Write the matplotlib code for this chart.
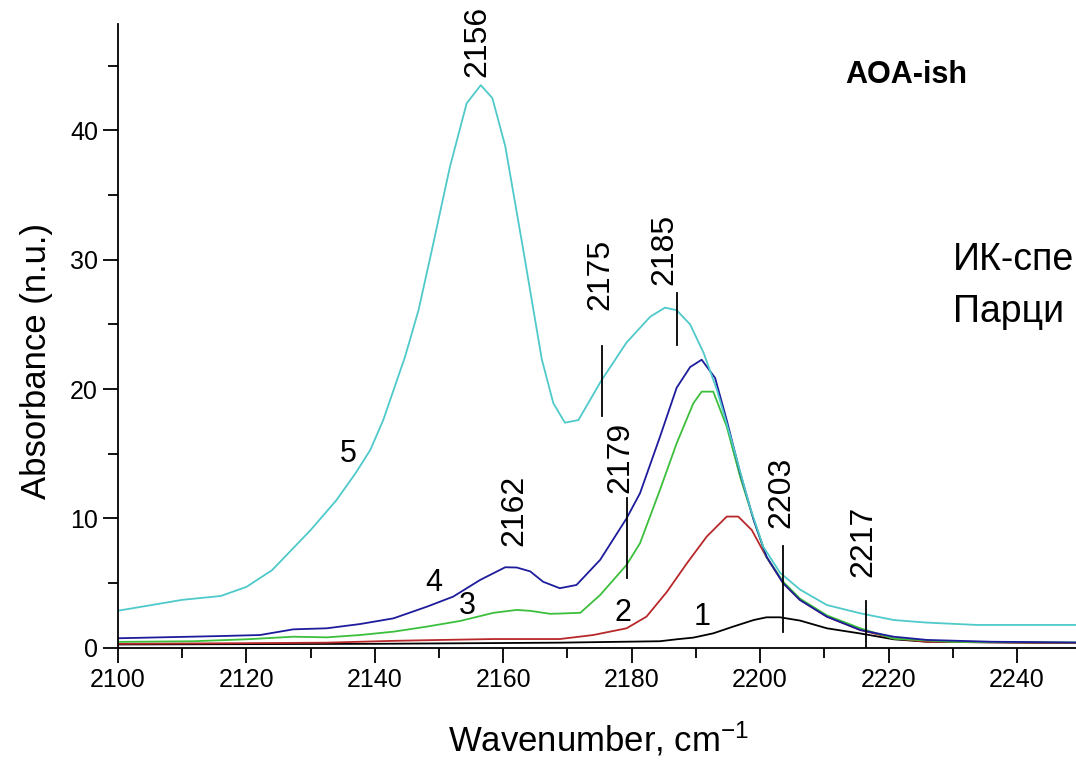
import matplotlib
matplotlib.use("Agg")
import matplotlib.pyplot as plt
from matplotlib.ticker import MultipleLocator

plt.rcParams["font.family"] = ["Liberation Sans", "DejaVu Sans"]
plt.rcParams["mathtext.fontset"] = "custom"
plt.rcParams["mathtext.rm"] = "Liberation Sans"
plt.rcParams["mathtext.it"] = "Liberation Sans:italic"

# spectrum 5 (cyan)
wn5 = [2100, 2110, 2116, 2120, 2124, 2130, 2134, 2137, 2139.3, 2141.3, 2144.7, 2146.8,
       2148.9, 2151.7, 2154.3, 2156.5, 2158.3, 2160.3, 2163.1, 2166.0, 2167.8, 2169.6,
       2171.7, 2175.2, 2179.2, 2182.9, 2185.2, 2187.0, 2189.1, 2191.2, 2193.3, 2195.8,
       2198.4, 2200.5, 2203.1, 2206.2, 2210.4, 2215.6, 2220.8, 2226.0, 2233.8, 2250]
abs5 = [2.86, 3.7, 4.0, 4.7, 6.0, 9.1, 11.4, 13.5, 15.3, 17.6, 22.5, 26.1,
        30.8, 37.2, 42.1, 43.5, 42.5, 38.8, 30.8, 22.3, 18.9, 17.4,
        17.6, 20.6, 23.6, 25.6, 26.3, 26.1, 25.0, 22.8, 19.9, 15.6,
        10.9, 7.8, 5.8, 4.5, 3.3, 2.66, 2.14, 1.94, 1.76, 1.76]

# spectrum 4 (dark blue)
wn4 = [2100, 2115.9, 2122.1, 2127.3, 2132.5, 2137.7, 2142.9, 2148.1, 2152.2, 2156.4,
       2160.3, 2162.1, 2164.2, 2166.2, 2168.8, 2171.4, 2175.1, 2179.2, 2181.3, 2184.4,
       2187.0, 2189.1, 2190.9, 2193.0, 2194.8, 2196.9, 2199.0, 2201.0, 2203.6, 2206.2,
       2210.4, 2215.6, 2220.8, 2226.0, 2236.0, 2250]
abs4 = [0.73, 0.9, 0.98, 1.42, 1.5, 1.83, 2.27, 3.17, 3.95, 5.24,
        6.22, 6.2, 5.9, 5.1, 4.6, 4.85, 6.8, 10.0, 11.95, 16.3,
        20.1, 21.7, 22.27, 20.85, 17.6, 13.5, 9.88, 7.04, 4.98, 3.69,
        2.4, 1.37, 0.85, 0.6, 0.46, 0.4]

# spectrum 3 (green)
wn3 = [2100, 2111.7, 2120, 2127.3, 2132.5, 2137.7, 2142.9, 2148.1, 2153.3, 2158.5,
       2162.1, 2164.2, 2167.3, 2168.8, 2172.0, 2175.1, 2179.2, 2181.3, 2184.4, 2187.0,
       2189.6, 2190.9, 2192.7, 2194.8, 2196.9, 2199.0, 2201.0, 2203.6, 2206.2, 2210.4,
       2215.6, 2220.8, 2230.0, 2250]
abs3 = [0.45, 0.5, 0.65, 0.85, 0.8, 0.98, 1.24, 1.63, 2.07, 2.7,
        2.92, 2.85, 2.62, 2.64, 2.7, 4.08, 6.4, 8.08, 12.2, 15.8,
        18.9, 19.8, 19.8, 17.1, 13.2, 9.88, 7.0, 5.1, 3.8, 2.5,
        1.5, 0.7, 0.45, 0.4]

# spectrum 2 (red)
wn2 = [2100, 2120, 2132.5, 2142.9, 2148.1, 2158.5, 2168.8, 2174.0, 2179.2, 2182.3,
       2185.5, 2188.6, 2191.7, 2194.8, 2196.6, 2198.7, 2201.0, 2203.6, 2206.2, 2210.4,
       2215.6, 2220.8, 2226.0, 2250]
abs2 = [0.3, 0.35, 0.39, 0.53, 0.58, 0.67, 0.67, 0.98, 1.5, 2.4,
        4.33, 6.53, 8.6, 10.14, 10.14, 9.1, 7.0, 4.98, 3.7, 2.4,
        1.37, 0.72, 0.46, 0.35]

# spectrum 1 (black)
wn1 = [2100, 2140, 2168.8, 2184.4, 2187.0, 2189.6, 2192.7, 2195.8, 2199.0, 2201.0,
       2203.1, 2206.2, 2210.4, 2215.6, 2220.8, 2226.0, 2250]
abs1 = [0.25, 0.3, 0.39, 0.5, 0.65, 0.78, 1.11, 1.63, 2.14, 2.35,
        2.35, 2.1, 1.5, 1.1, 0.65, 0.46, 0.35]

curves = [(wn1, abs1, "#000000"), (wn2, abs2, "#b8282a"), (wn3, abs3, "#3cbf3c"),
          (wn4, abs4, "#1c1c9c"), (wn5, abs5, "#4fc9c9")]

# peak labels: text, x, y
peak_text = ["2156", "2175", "2185", "2162", "2179", "2203", "2217"]
peak_x = [2155.9, 2175.1, 2185.1, 2161.8, 2178.3, 2203.3, 2216.1]
peak_y = [46.9, 28.9, 30.8, 10.6, 14.7, 12.0, 8.2]

# marker lines: x, y from, y to
mark_x = [2175.3, 2187.1, 2179.2, 2203.6, 2216.5]
mark_y0 = [17.9, 23.4, 5.4, 1.24, 0.08]
mark_y1 = [23.3, 27.4, 11.6, 7.9, 3.6]

# curve numbers
num_text = ["1", "2", "3", "4", "5"]
num_x = [2190.9, 2178.7, 2154.4, 2149.1, 2135.9]
num_y = [2.4, 2.66, 3.2, 5.0, 15.0]

fig = plt.figure(figsize=(10.76, 7.62), dpi=100)
ax = fig.add_axes([0.1097, 0.15, 0.8903, 0.818])

for wn, a, col in curves:
    ax.plot(wn, a, color=col, lw=1.3)

for t, x, y in zip(peak_text, peak_x, peak_y):
    ax.text(x, y, t, rotation=90, ha="center", va="center", fontsize=23)

for x, y0, y1 in zip(mark_x, mark_y0, mark_y1):
    ax.plot([x, x], [y0, y1], color="black", lw=1.3)

for t, x, y in zip(num_text, num_x, num_y):
    ax.text(x, y, t, ha="center", va="center", fontsize=22)

ax.text(2213.2, 43.7, "AOA-ish", fontsize=22, fontweight="bold", ha="left", va="baseline")
# side caption, cut by the right edge in the source image
ax.text(2230.1, 29.2, "ИК-спе", fontsize=27, ha="left", va="baseline", clip_on=False)
ax.text(2230.1, 25.2, "Парци", fontsize=27, ha="left", va="baseline", clip_on=False)

ax.set_xlim(2100, 2249.2)
ax.set_ylim(0, 48.2)
ax.xaxis.set_major_locator(MultipleLocator(20))
ax.xaxis.set_minor_locator(MultipleLocator(10))
ax.yaxis.set_major_locator(MultipleLocator(10))
ax.yaxis.set_minor_locator(MultipleLocator(5))
ax.tick_params(which="major", length=11, width=1.3, labelsize=18, direction="out")
ax.tick_params(which="minor", length=7, width=1.3, direction="out")
ax.spines["top"].set_visible(False)
ax.spines["right"].set_visible(False)
ax.spines["left"].set_linewidth(1.3)
ax.spines["bottom"].set_linewidth(1.3)

ax.set_xlabel("Wavenumber, cm$^{-1}$", fontsize=25)
ax.set_ylabel("Absorbance (n.u.)", fontsize=25)
ax.xaxis.set_label_coords(0.502, -0.115)
ax.yaxis.set_label_coords(-0.068, 0.46)

fig.savefig("out.png", dpi=100)
